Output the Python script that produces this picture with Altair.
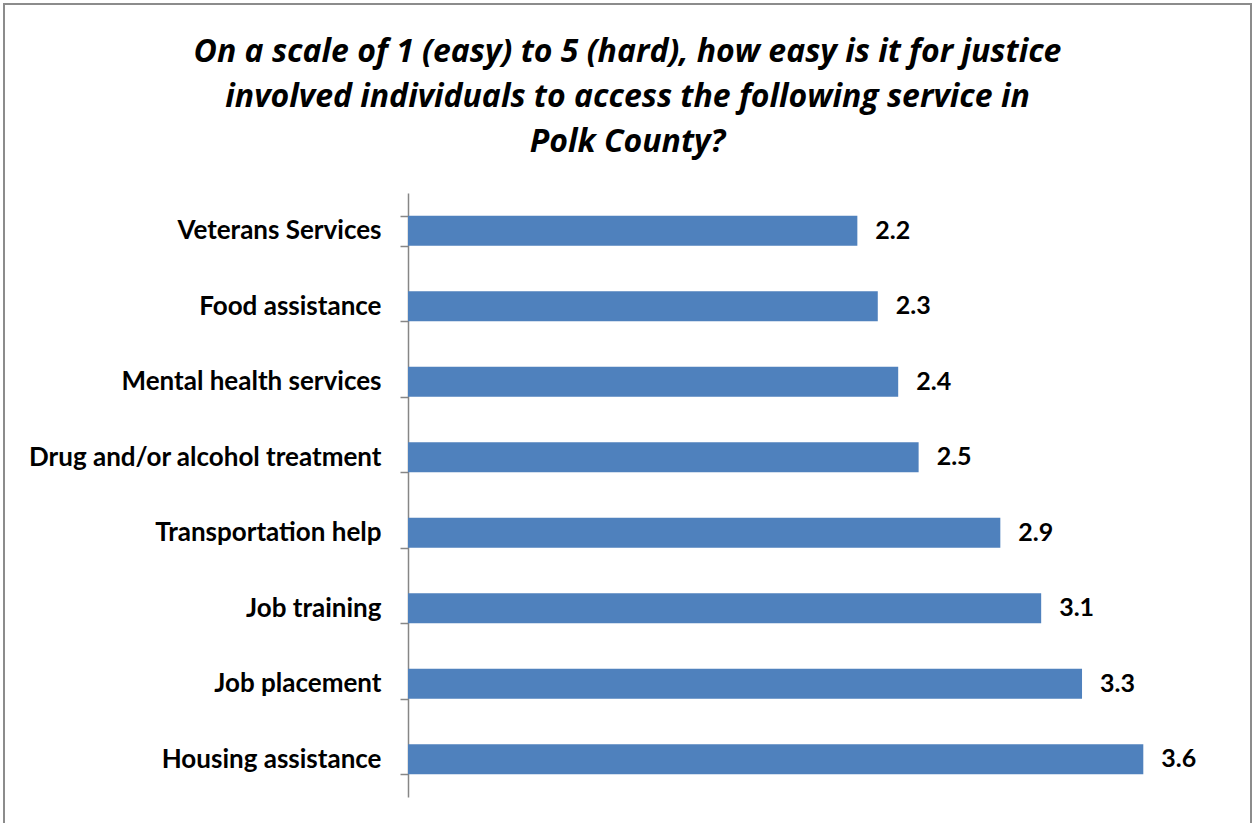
import altair as alt
import pandas as pd

services = [
    "Veterans Services",
    "Food assistance",
    "Mental health services",
    "Drug and/or alcohol treatment",
    "Transportation help",
    "Job training",
    "Job placement",
    "Housing assistance",
]
scores = [2.2, 2.3, 2.4, 2.5, 2.9, 3.1, 3.3, 3.6]

df = pd.DataFrame({"service": services, "score": scores})

FONT = "Lato"
W, H = 817, 604
PL, PT = 408, 193

y_enc = alt.Y(
    "service:N",
    sort=services,
    title=None,
    axis=alt.Axis(
        labelFont=FONT,
        labelFontWeight="bold",
        labelFontSize=26,
        labelColor="#000000",
        labelPadding=19,
        tickBand="extent",
        tickSize=8,
        tickColor="#868686",
        tickWidth=1.5,
        domainColor="#868686",
        domainWidth=1.5,
        grid=False,
        labelLimit=400,
    ),
    scale=alt.Scale(paddingInner=0.6, paddingOuter=0.3),
)
x_enc = alt.X("score:Q", scale=alt.Scale(domain=[0, 4]), axis=None)

bars = alt.Chart(df).mark_bar(color="#4F81BD", size=30).encode(x=x_enc, y=y_enc)
labels = alt.Chart(df).mark_text(
    align="left", baseline="middle", dx=18, font=FONT, fontWeight="bold", fontSize=25, color="#000000"
).encode(x=x_enc, y=alt.Y("service:N", sort=services), text=alt.Text("score:Q", format=".1f"))

frame = alt.Chart(df).mark_rect(fill=None, stroke="#8c8c8c", strokeWidth=2, clip=False).encode(
    x=alt.value(-PL + 4), x2=alt.value(1251 - PL), y=alt.value(-PT + 4), y2=alt.value(823 - PT + 20)
)

chart = alt.layer(frame, bars, labels).properties(
    width=W,
    height=H,
    autosize=alt.AutoSizeParams(type="none"),
    padding={"left": PL, "top": PT, "right": 1254 - PL - W, "bottom": 823 - PT - H},
    title=alt.TitleParams(
        text=[
            "On a scale of 1 (easy) to 5 (hard), how easy is it for justice",
            "involved individuals to access the following service in",
            "Polk County?",
        ],
        font="Open Sans",
        fontSize=32,
        fontWeight="bold",
        fontStyle="italic",
        color="#000000",
        anchor="middle",
        frame="group",
        dx=-189,
        offset=-156,
        lineHeight=45,
    ),
).configure(background="white").configure_view(stroke=None)

chart.save("out.html", embed_options={"renderer": "svg", "actions": False})
